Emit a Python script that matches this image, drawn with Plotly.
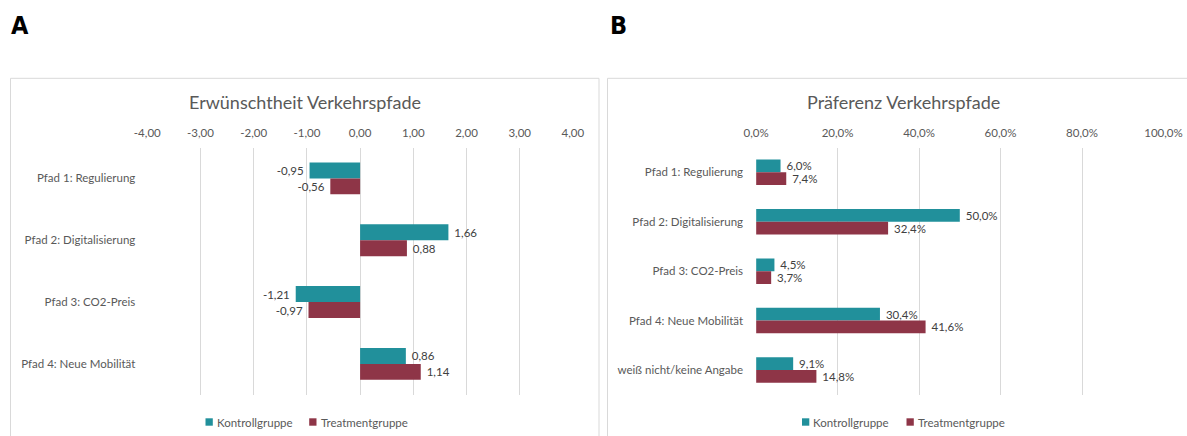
import plotly.graph_objects as go

# Panel A: desirability of transport pathways (mean rating)
paths_a = ["Pfad 1: Regulierung", "Pfad 2: Digitalisierung", "Pfad 3: CO2-Preis", "Pfad 4: Neue Mobilität"]
kontroll_a = [-0.95, 1.66, -1.21, 0.86]
treatment_a = [-0.56, 0.88, -0.97, 1.14]
ticks_a = [-4, -3, -2, -1, 0, 1, 2, 3, 4]
ticklabels_a = ["-4,00", "-3,00", "-2,00", "-1,00", "0,00", "1,00", "2,00", "3,00", "4,00"]

# Panel B: preferred transport pathway (share of respondents)
paths_b = ["Pfad 1: Regulierung", "Pfad 2: Digitalisierung", "Pfad 3: CO2-Preis",
           "Pfad 4: Neue Mobilität", "weiß nicht/keine Angabe"]
kontroll_b = [0.060, 0.500, 0.045, 0.304, 0.091]
treatment_b = [0.074, 0.324, 0.037, 0.416, 0.148]
ticks_b = [0.0, 0.2, 0.4, 0.6, 0.8, 1.0]
ticklabels_b = ["0,0%", "20,0%", "40,0%", "60,0%", "80,0%", "100,0%"]

groups = ["Kontrollgruppe", "Treatmentgruppe"]

W, H = 1187, 436
TEAL = "#21909B"
WINE = "#8E3547"
GRID = "#D9D9D9"
TXT = "#595959"
FONT = "Lato, Calibri, sans-serif"
FS = 11.5
NBSP = "\u00a0"


def px_x(v):
    return v / W


def px_y(v):
    return 1 - v / H


def pad(s, v):
    # small gap between the bar end and its value label
    return NBSP + s if v >= 0 else s + NBSP


def fmt_num(v):
    return pad(f"{v:.2f}".replace(".", ","), v)


def fmt_pct(v):
    return pad(f"{v * 100:.1f}%".replace(".", ","), v)


def bar(y, x, name, color, xa, ya, fmt):
    return go.Bar(y=y, x=x, orientation="h", name=name, marker=dict(color=color, line=dict(width=0)),
                  xaxis=xa, yaxis=ya, showlegend=False,
                  text=[fmt(v) for v in x], textposition="outside", cliponaxis=False,
                  constraintext="none", textfont=dict(size=FS, color="#404040", family=FONT),
                  hoverinfo="skip")


fig = go.Figure()
fig.add_trace(bar(paths_a, kontroll_a, groups[0], TEAL, "x", "y", fmt_num))
fig.add_trace(bar(paths_a, treatment_a, groups[1], WINE, "x", "y", fmt_num))
fig.add_trace(bar(paths_b, kontroll_b, groups[0], TEAL, "x2", "y2", fmt_pct))
fig.add_trace(bar(paths_b, treatment_b, groups[1], WINE, "x2", "y2", fmt_pct))

ydom = [px_y(394.8), px_y(147.5)]

axis_x = dict(side="top", showgrid=True, gridcolor=GRID, gridwidth=1, automargin=False,
              zeroline=False, showline=False, ticks="", tickmode="array", ticklabelstandoff=7,
              tickfont=dict(size=FS, color=TXT, family=FONT), fixedrange=True)
axis_y = dict(showgrid=False, zeroline=False, showline=False, ticks="", automargin=False,
              autorange="reversed", categoryorder="array", fixedrange=True,
              tickfont=dict(size=FS, color=TXT, family=FONT))

fig.update_layout(
    width=W, height=H, autosize=False,
    margin=dict(l=0, r=0, t=0, b=0, pad=0, autoexpand=False),
    paper_bgcolor="white", plot_bgcolor="white",
    font=dict(family=FONT, color=TXT, size=FS),
    barmode="group", bargap=0.484, bargroupgap=0,
    xaxis=dict(domain=[px_x(147.3), px_x(572.9)], range=[-4, 4], anchor="y",
               tickvals=ticks_a, ticktext=ticklabels_a, **axis_x),
    yaxis=dict(domain=ydom, anchor="x", categoryarray=paths_a, ticklabelstandoff=11, **axis_y),
    xaxis2=dict(domain=[px_x(756.1), px_x(1163.5)], range=[0, 1], anchor="y2",
                tickvals=ticks_b, ticktext=ticklabels_b, **axis_x),
    yaxis2=dict(domain=ydom, anchor="x2", categoryarray=paths_b, ticklabelstandoff=12, **axis_y),
    showlegend=False,
)

# Panel frames
fig.add_shape(type="rect", xref="paper", yref="paper",
              x0=px_x(10.5), x1=px_x(599), y0=px_y(460), y1=px_y(78.3),
              line=dict(color=GRID, width=1), fillcolor="rgba(0,0,0,0)", layer="below")
fig.add_shape(type="rect", xref="paper", yref="paper",
              x0=px_x(607.5), x1=px_x(1200), y0=px_y(460), y1=px_y(78.3),
              line=dict(color=GRID, width=1), fillcolor="rgba(0,0,0,0)", layer="below")

# Legends: colour key square followed by the group name
legend_items = [
    (205.5, groups[0], TEAL), (309.2, groups[1], WINE),
    (802.0, groups[0], TEAL), (906.5, groups[1], WINE),
]
for lx, name, color in legend_items:
    fig.add_shape(type="rect", xref="paper", yref="paper",
                  x0=px_x(lx), x1=px_x(lx + 7.3), y0=px_y(425.7), y1=px_y(418.3),
                  line=dict(width=0), fillcolor=color)
    fig.add_annotation(text=name, x=px_x(lx + 9.5), y=px_y(422), xref="paper", yref="paper",
                       showarrow=False, xanchor="left", yanchor="middle",
                       font=dict(size=FS, color=TXT, family=FONT))

# Chart titles and panel letters
for title, cx in [("Erwünschtheit Verkehrspfade", 305), ("Präferenz Verkehrspfade", 903)]:
    fig.add_annotation(text=title, x=px_x(cx), y=px_y(102), xref="paper", yref="paper",
                       showarrow=False, xanchor="center", yanchor="middle",
                       font=dict(size=18, color=TXT, family=FONT))
for letter, lx in [("A", 9), ("B", 608)]:
    fig.add_annotation(text=f"<b>{letter}</b>", x=px_x(lx), y=px_y(25), xref="paper", yref="paper",
                       showarrow=False, xanchor="left", yanchor="middle",
                       font=dict(size=25, color="black", family="DejaVu Sans Condensed, DejaVu Sans"))

fig.write_html("out.html", config={"responsive": False, "displayModeBar": False})
